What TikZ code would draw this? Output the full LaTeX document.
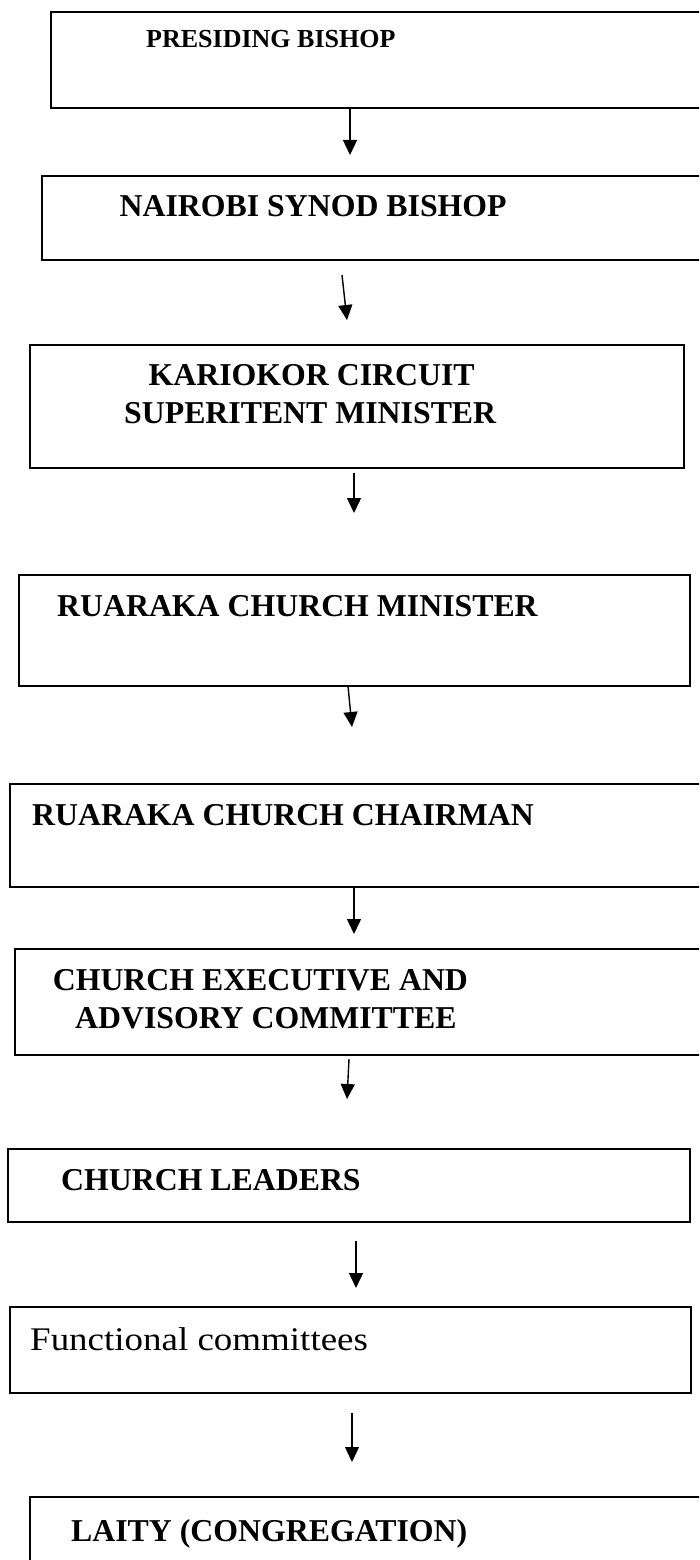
\documentclass[tikz,border=0pt]{standalone}
\usepackage{fontspec}
\setmainfont{Liberation Serif}
\usepackage{graphicx}
\usetikzlibrary{arrows.meta}
\tikzset{
  box/.style={draw=black, line width=1.3pt, rectangle, inner sep=0pt, fill=none},
  lbl/.style={anchor=base west, inner sep=0pt, font=\fontsize{31.8}{38}\selectfont\bfseries},
  smalllbl/.style={anchor=base west, inner sep=0pt, font=\fontsize{26}{31}\selectfont\bfseries},
  plainlbl/.style={anchor=base west, inner sep=0pt, font=\fontsize{33}{38}\selectfont},
  arr/.style={line width=1.4pt, -{Triangle[length=15pt,width=14pt]}}
}
\begin{document}
\begin{tikzpicture}[x=1pt,y=-1pt]
\useasboundingbox (0,0) rectangle (699,1560);
\clip (0,0) rectangle (699,1560);
% boxes
\node[box, minimum width=669pt, minimum height=96pt] (b1) at (385.5,60) {};
\node[box, minimum width=678pt, minimum height=84pt] (b2) at (381,218) {};
\node[box, minimum width=654pt, minimum height=123pt] (b3) at (357,406.5) {};
\node[box, minimum width=671pt, minimum height=111pt] (b4) at (354.5,630.5) {};
\node[box, minimum width=710pt, minimum height=103pt] (b5) at (365,835.5) {};
\node[box, minimum width=705pt, minimum height=106pt] (b6) at (367.5,1002) {};
\node[box, minimum width=682pt, minimum height=73pt] (b7) at (349,1185.5) {};
\node[box, minimum width=681pt, minimum height=86pt] (b8) at (350.5,1350) {};
\node[box, minimum width=690pt, minimum height=103pt] (b9) at (375,1548.5) {};
% labels
\node[smalllbl] (t1) at (146,48) {PRESIDING BISHOP};
\node[lbl] (t2) at (119.5,216) {NAIROBI SYNOD BISHOP};
\node[lbl] (t3a) at (148.5,385) {KARIOKOR CIRCUIT};
\node[lbl] (t3b) at (124,423) {SUPERITENT MINISTER};
\node[lbl] (t4) at (57,616) {RUARAKA CHURCH MINISTER};
\node[lbl] (t5) at (32,825) {RUARAKA CHURCH CHAIRMAN};
\node[lbl] (t6a) at (52.6,990) {CHURCH EXECUTIVE AND};
\node[lbl] (t6b) at (75,1028) {ADVISORY COMMITTEE};
\node[lbl] (t7) at (61,1190) {CHURCH LEADERS};
\node[plainlbl] (t8) at (30,1350) {\scalebox{1.12}[1]{Functional committees}};
\node[lbl] (t9) at (71,1541) {LAITY (CONGREGATION)};
% arrow end points
\coordinate (a1s) at (350,108);  \coordinate (a1e) at (350,155);
\coordinate (a2s) at (342,275);  \coordinate (a2e) at (347,320);
\coordinate (a3s) at (354,473);  \coordinate (a3e) at (354,513);
\coordinate (a4s) at (348,686);  \coordinate (a4e) at (352,727);
\coordinate (a5s) at (354,887);  \coordinate (a5e) at (354,934);
\coordinate (a6s) at (349,1059); \coordinate (a6e) at (347,1099);
\coordinate (a7s) at (356,1241); \coordinate (a7e) at (356,1288);
\coordinate (a8s) at (352,1413); \coordinate (a8e) at (352,1462);
\draw[arr] (a1s) -- (a1e);
\draw[arr] (a2s) -- (a2e);
\draw[arr] (a3s) -- (a3e);
\draw[arr] (a4s) -- (a4e);
\draw[arr] (a5s) -- (a5e);
\draw[arr] (a6s) -- (a6e);
\draw[arr] (a7s) -- (a7e);
\draw[arr] (a8s) -- (a8e);
\end{tikzpicture}
\end{document}
